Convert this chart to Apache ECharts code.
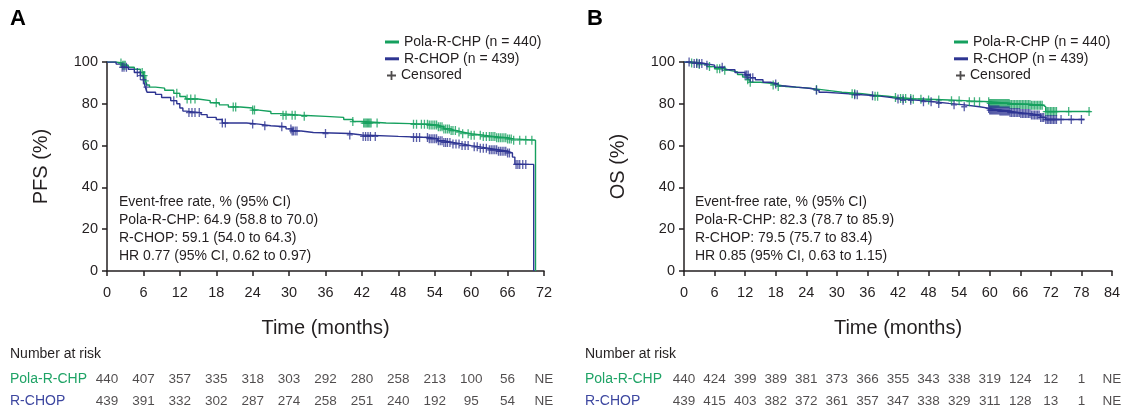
<!DOCTYPE html>
<html>
<head>
<meta charset="utf-8">
<script src="https://cdn.jsdelivr.net/npm/echarts@6/dist/echarts.min.js"></script>
<style>
  html, body { margin: 0; padding: 0; background: #fff; }
  #chart { width: 1125px; height: 414px; }
</style>
</head>
<body>
<div id="chart"></div>
<script>
// ---- data ----
var armNames = ['Pola-R-CHP (n = 440)', 'R-CHOP (n = 439)'];
var riskArms = ['Pola-R-CHP', 'R-CHOP'];

// panel A: PFS step curves [month, %]
var pfsPola = [[0,100],[1.5,99.5],[2.5,98.5],[3.5,97.5],[4.5,96.5],[5.5,95],[6,93.5],[6.3,91],[6.6,89],[7,88],
  [8,87.5],[9.5,86.5],[11,85],[12,83.5],[13,82.3],[15,81.5],[17,80.5],[18.5,79.5],[20,78.5],[22,78],[24,77],
  [25,76.3],[27,75.3],[28.5,74.5],[32,74],[36,73.5],[39,72.5],[40.5,71.5],[42,70.8],[46,70.5],[50,70.2],
  [53,69.8],[54.5,69],[55.5,68],[56.5,67.2],[57.5,66.5],[58.5,65.7],[60,65],[62,64.3],[64,63.8],[66,63.2],
  [67,62.6],[70.6,0]];
var pfsRchop = [[0,100],[1.5,99],[2.5,97.5],[3.5,96.5],[4.5,95],[5.5,93.5],[6,91.5],[6.3,88],[6.6,85.5],
  [8,84.5],[9,83],[10.5,81.5],[11.5,80],[12,78],[12.5,76.5],[13,75.8],[15.5,74.8],[16.5,73.5],[18,72.5],
  [19,70.8],[23,70.3],[25,69.5],[27,69],[29.5,68],[30.5,67],[32,66.3],[34,65.8],[40,65.1],[42,64.4],[48,63.9],
  [53,63.3],[54.5,62.3],[55.5,61.5],[57,60.8],[58.5,60],[60,59.4],[61.5,58.7],[63,58],[64.5,57.3],[66,56.5],
  [66.8,54.5],[67.2,51],[70.3,0]];
var pfsPolaCens = [2.3,2.6,2.8,3,5.8,6,6.2,6.4,11.5,13.2,13.8,14.5,18,20.8,21.2,24,24.3,29,29.5,30.5,31,32.5,
  40.5,42.3,42.5,42.7,42.9,43.1,43.3,43.5,44.5,50.5,51,51.8,52.3,52.8,53.1,53.4,53.7,54,54.3,54.6,54.9,55.2,
  55.5,55.8,56.1,56.4,56.7,57,57.4,58,58.6,59.5,60,60.5,61.5,62,62.5,63,63.3,63.6,63.9,64.2,64.5,64.8,65.1,
  65.4,65.7,66,66.3,66.6,67,68,69,70];
var pfsRchopCens = [2.5,2.8,3.2,5,5.5,6,6.5,11,13.5,14,14.5,15.2,19,19.5,24,26,28.8,30.3,30.5,30.7,31,31.3,
  36,40,42.2,42.6,43,43.4,44.2,50.5,51,51.5,52.8,53.1,53.4,53.7,54,54.3,54.6,54.9,55.2,55.5,55.8,56.1,56.5,57,
  57.5,58,58.5,59,59.5,60.5,61,61.5,62,62.5,63,63.3,63.6,63.9,64.2,64.5,64.8,65.1,65.4,65.7,66,66.3,67.4,
  67.7,68,68.5,69];

// panel B: OS step curves
var osPola = [[0,100],[1,99.5],[3,98.8],[4.5,97.8],[6,96.8],[8,96],[9,95.3],[10.5,94],[11.5,92.8],[12.5,91.5],
  [13,90.3],[15,89.8],[17,89],[18.5,88.3],[20,87.6],[24,87.3],[25,86.8],[27,86.2],[29,85.5],[31,84.8],[35,84.2],
  [37,83.6],[40,83],[42,82.5],[45,82.2],[48,81.8],[52,81.4],[56,81],[60,80.2],[64,79.7],[68,79.3],[70.5,78.5],
  [71,76.3],[79.8,76.3]];
var osRchop = [[0,100],[2,99.3],[4,98.5],[6,97.5],[8,96.3],[10,95],[12,93.8],[13,92.5],[14,91.5],[15.5,90.3],
  [17,89.5],[18.5,88.5],[20,88],[22,87.3],[25,86.5],[26.5,85.5],[28,85],[31,84.3],[35,83.8],[38,83.2],[40,82.3],
  [43,81.7],[46,81],[49,80.2],[52,79.5],[55,78.6],[58,77.8],[60,77],[62,76.5],[64,75.8],[66,75.3],[68,74.6],
  [70,73.5],[71,72.5],[78.6,72.5]];
var osPolaCens = [1.5,2.5,3,5,6.5,7,8,12.5,13,17.5,18.5,26,33,33.5,37.5,38,41.5,42.5,43,43.5,44.5,45,46.5,48,
  50,52.5,54,56,57,58,59.8,60,60.2,60.4,60.6,60.8,61,61.2,61.4,61.6,61.8,62,62.2,62.4,62.6,62.8,63,63.2,63.4,
  63.6,63.8,64,64.3,64.6,64.9,65.2,65.5,65.8,66.1,66.4,66.7,67,67.3,67.6,67.9,68.2,68.5,68.8,69.1,69.4,69.7,70,
  70.3,71,71.3,71.6,71.9,72.2,72.5,72.8,73.1,75.5,79.5];
var osRchopCens = [1,2,2.5,3,3.5,4.5,7.5,12,12.3,12.6,13,13.5,18,26,33.5,34,37,42,43,44.5,47,48.5,50,53,55,
  59.8,60,60.2,60.4,60.6,60.8,61,61.2,61.4,61.6,61.8,62,62.2,62.4,62.6,62.8,63,63.2,63.4,63.6,63.8,64,64.3,
  64.6,64.9,65.2,65.5,65.8,66.1,66.4,66.7,67,67.3,67.6,67.9,68.2,68.5,68.8,69.1,69.4,69.7,70,70.3,70.6,71,
  71.3,71.6,71.9,72.2,72.5,72.8,73.1,74,76,78];

// number at risk
var riskTimesA = [0,6,12,18,24,30,36,42,48,54,60,66,72];
var riskPolaA = [440,407,357,335,318,303,292,280,258,213,100,56,'NE'];
var riskRchopA = [439,391,332,302,287,274,258,251,240,192,95,54,'NE'];
var riskTimesB = [0,6,12,18,24,30,36,42,48,54,60,66,72,78,84];
var riskPolaB = [440,424,399,389,381,373,366,355,343,338,319,124,12,1,'NE'];
var riskRchopB = [439,415,403,382,372,361,357,347,338,329,311,128,13,1,'NE'];

var statsA = ['Event-free rate, % (95% CI)', 'Pola-R-CHP: 64.9 (58.8 to 70.0)',
  'R-CHOP: 59.1 (54.0 to 64.3)', 'HR 0.77 (95% CI, 0.62 to 0.97)'];
var statsB = ['Event-free rate, % (95% CI)', 'Pola-R-CHP: 82.3 (78.7 to 85.9)',
  'R-CHOP: 79.5 (75.7 to 83.4)', 'HR 0.85 (95% CI, 0.63 to 1.15)'];

// ---- styling ----
var GREEN = '#15a05e';
var BLUE = '#2e3592';
var INK = '#231f20';
var FONT = '"Liberation Sans", Arial, Helvetica, sans-serif';
var PLUS = 'path://M2.35,0H3.65V9H2.35Z M0,3.85H6V5.15H0Z';
var PLUS_LEGEND = 'path://M4,0H6V10H4Z M0,4H10V6H0Z';

// KM value at time t (last step at or before t)
function kmAt(curve, t) {
  var s = curve[0][1];
  for (var i = 0; i < curve.length; i++) {
    if (curve[i][0] <= t) s = curve[i][1]; else break;
  }
  return s;
}
function censPoints(curve, times) {
  return times.map(function (t) { return [t, kmAt(curve, t)]; });
}
function riskPoints(times, pola, rchop) {
  var out = [];
  times.forEach(function (t, i) {
    out.push([t, 0, pola[i]]);
    out.push([t, 1, rchop[i]]);
  });
  return out;
}

var panels = [
  { left: 107, width: 437, max: 72, yName: 'PFS (%)', riskMargin: 97 },
  { left: 684, width: 428, max: 84, yName: 'OS (%)', riskMargin: 99 }
];

var grids = [], xAxes = [], yAxes = [];
panels.forEach(function (p) {
  grids.push({ left: p.left, top: 62, width: p.width, height: 209 });
  xAxes.push({
    type: 'value', gridIndex: grids.length - 1, min: 0, max: p.max, interval: 6,
    name: 'Time (months)', nameLocation: 'middle', nameGap: 47,
    nameTextStyle: { fontFamily: FONT, fontSize: 20, color: INK },
    axisLine: { lineStyle: { color: INK, width: 1.5 } },
    axisTick: { length: 5, lineStyle: { color: INK, width: 1.5 } },
    axisLabel: { fontFamily: FONT, fontSize: 14.5, color: INK, margin: 14 },
    splitLine: { show: false }
  });
  yAxes.push({
    type: 'value', gridIndex: grids.length - 1, min: 0, max: 100, interval: 20,
    name: p.yName, nameLocation: 'middle', nameGap: 56,
    nameTextStyle: { fontFamily: FONT, fontSize: 20, color: INK },
    axisLine: { show: true, lineStyle: { color: INK, width: 1.5 } },
    axisTick: { show: true, length: 5, lineStyle: { color: INK, width: 1.5 } },
    axisLabel: { fontFamily: FONT, fontSize: 14.5, color: INK, margin: 9 },
    splitLine: { show: false }
  });
});
// risk table grids share the x scale of the plots above
panels.forEach(function (p) {
  grids.push({ left: p.left, top: 368, width: p.width, height: 44 });
  xAxes.push({ type: 'value', gridIndex: grids.length - 1, min: 0, max: p.max, show: false });
  yAxes.push({
    type: 'category', gridIndex: grids.length - 1, data: riskArms, inverse: true,
    axisLine: { show: false }, axisTick: { show: false }, splitLine: { show: false },
    axisLabel: {
      align: 'left', margin: p.riskMargin, fontFamily: FONT, fontSize: 14,
      color: function (v) { return v === 'R-CHOP' ? '#3d47a0' : '#1fa366'; }
    }
  });
});

function kmLine(name, data, color, idx) {
  return {
    type: 'line', name: name, data: data, step: 'end', showSymbol: false,
    xAxisIndex: idx, yAxisIndex: idx, color: color,
    lineStyle: { color: color, width: 1.4 }, z: 2
  };
}
function cens(name, data, color, idx) {
  return {
    type: 'scatter', name: name, data: data, symbol: PLUS, symbolSize: [6, 9],
    xAxisIndex: idx, yAxisIndex: idx, itemStyle: { color: color }, z: 3
  };
}
function risk(data, idx) {
  return {
    type: 'scatter', data: data, symbolSize: 0, xAxisIndex: idx, yAxisIndex: idx,
    label: {
      show: true, position: 'inside', fontFamily: FONT, fontSize: 13.5, color: INK,
      formatter: function (p) { return p.value[2]; }
    }
  };
}

var series = [
  kmLine(armNames[0], pfsPola, GREEN, 0),
  kmLine(armNames[1], pfsRchop, BLUE, 0),
  cens('Pola-R-CHP censored', censPoints(pfsPola, pfsPolaCens), GREEN, 0),
  cens('R-CHOP censored', censPoints(pfsRchop, pfsRchopCens), BLUE, 0),
  kmLine(armNames[0], osPola, GREEN, 1),
  kmLine(armNames[1], osRchop, BLUE, 1),
  cens('Pola-R-CHP censored', censPoints(osPola, osPolaCens), GREEN, 1),
  cens('R-CHOP censored', censPoints(osRchop, osRchopCens), BLUE, 1),
  { type: 'scatter', name: 'Censored', data: [], xAxisIndex: 0, yAxisIndex: 0,
    symbol: PLUS_LEGEND, itemStyle: { color: INK } },
  risk(riskPoints(riskTimesA, riskPolaA, riskRchopA), 2),
  risk(riskPoints(riskTimesB, riskPolaB, riskRchopB), 3)
];

function armLegend(left) {
  return {
    data: armNames, left: left, top: 33.6, orient: 'vertical', padding: 0,
    icon: 'rect', itemWidth: 14, itemHeight: 3, itemGap: 0, itemTextGap: 6,
    selectedMode: false,
    textStyle: { fontFamily: FONT, fontSize: 14, color: INK, lineHeight: 16.8 }
  };
}
function censLegend(left) {
  return {
    data: ['Censored'], left: left, top: 67.1, orient: 'vertical', padding: 0,
    icon: PLUS_LEGEND, itemWidth: 9, itemHeight: 9, itemTextGap: 12,
    selectedMode: false,
    textStyle: { fontFamily: FONT, fontSize: 14, color: INK, lineHeight: 16.8 }
  };
}

function statsText(x, lines) {
  return {
    type: 'text', left: x, top: 193,
    style: { text: lines.join('\n'), font: '14px ' + FONT, fill: INK, lineHeight: 18 }
  };
}

var chart = echarts.init(document.getElementById('chart'), null, { renderer: 'canvas' });
chart.setOption({
  animation: false,
  backgroundColor: '#fff',
  grid: grids,
  xAxis: xAxes,
  yAxis: yAxes,
  legend: [armLegend(385), censLegend(387), armLegend(954), censLegend(956)],
  series: series,
  graphic: [
    { type: 'text', left: 10, top: 8, style: { text: 'A', font: 'bold 22px ' + FONT, fill: '#000' } },
    { type: 'text', left: 587, top: 8, style: { text: 'B', font: 'bold 22px ' + FONT, fill: '#000' } },
    statsText(119, statsA),
    statsText(695, statsB),
    { type: 'text', left: 10, top: 347, style: { text: 'Number at risk', font: '14px ' + FONT, fill: INK } },
    { type: 'text', left: 585, top: 347, style: { text: 'Number at risk', font: '14px ' + FONT, fill: INK } }
  ]
});
window.addEventListener('resize', function () { chart.resize(); });
</script>
</body>
</html>
